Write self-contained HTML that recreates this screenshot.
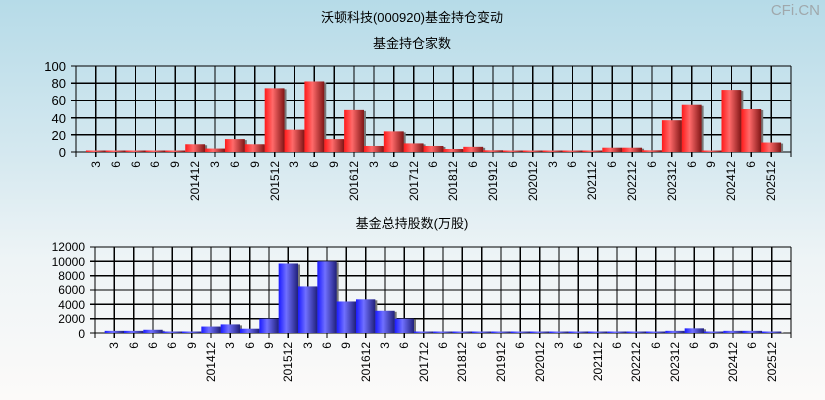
<!DOCTYPE html>
<html><head><meta charset="utf-8"><style>
html,body{margin:0;padding:0;}
body{width:825px;height:400px;overflow:hidden;background:linear-gradient(#b6dbe8 0%,#d6e9f0 40%,#eef4f6 65%,#fcfaf9 100%);font-family:"Liberation Sans","Noto Sans CJK SC",sans-serif;}
svg{position:absolute;left:0;top:0;}
text{font-family:"Liberation Sans","Noto Sans CJK SC",sans-serif;fill:#000;}
.yl{font-size:13px;text-anchor:end;}
.yb{font-size:12px;text-anchor:end;}
.xl text{font-size:12px;text-anchor:end;}
</style></head><body>
<svg width="825" height="400" xmlns="http://www.w3.org/2000/svg">
<defs>
<linearGradient id="rg" x1="0" x2="1" y1="0" y2="0"><stop offset="0" stop-color="#ff1a1a"/><stop offset="0.4" stop-color="#ff6a6a"/><stop offset="1" stop-color="#801515"/></linearGradient>
<linearGradient id="bg" x1="0" x2="1" y1="0" y2="0"><stop offset="0" stop-color="#1a1aff"/><stop offset="0.4" stop-color="#7070ff"/><stop offset="1" stop-color="#20207a"/></linearGradient>
</defs>
<text x="412" y="22" font-size="13" text-anchor="middle">沃顿科技(000920)基金持仓变动</text>
<text x="412" y="48" font-size="13" text-anchor="middle">基金持仓家数</text>
<text x="412" y="228" font-size="13" text-anchor="middle">基金总持股数(万股)</text>
<text x="820" y="15" font-size="15" text-anchor="end" style="fill:#a0a8ac">CFi.CN</text>
<g id="top"></g><g id="bot"></g>
<text class="yl" x="66" y="71">100</text><text class="yl" x="66" y="88">80</text><text class="yl" x="66" y="105">60</text><text class="yl" x="66" y="123">40</text><text class="yl" x="66" y="140">20</text><text class="yl" x="66" y="157">0</text>
<text class="yb" x="85" y="251">12000</text><text class="yb" x="85" y="266">10000</text><text class="yb" x="85" y="280">8000</text><text class="yb" x="85" y="294">6000</text><text class="yb" x="85" y="309">4000</text><text class="yb" x="85" y="323">2000</text><text class="yb" x="85" y="338">0</text>
<g class="xl">
<text transform="translate(100,161) rotate(-90)">3</text><text transform="translate(120,161) rotate(-90)">6</text><text transform="translate(140,161) rotate(-90)">6</text><text transform="translate(159,161) rotate(-90)">6</text><text transform="translate(179,161) rotate(-90)">9</text><text transform="translate(199,161) rotate(-90)">201412</text><text transform="translate(219,161) rotate(-90)">3</text><text transform="translate(239,161) rotate(-90)">6</text><text transform="translate(259,161) rotate(-90)">9</text><text transform="translate(279,161) rotate(-90)">201512</text><text transform="translate(298,161) rotate(-90)">3</text><text transform="translate(318,161) rotate(-90)">6</text><text transform="translate(338,161) rotate(-90)">9</text><text transform="translate(358,161) rotate(-90)">201612</text><text transform="translate(378,161) rotate(-90)">3</text><text transform="translate(398,161) rotate(-90)">6</text><text transform="translate(418,161) rotate(-90)">201712</text><text transform="translate(437,161) rotate(-90)">6</text><text transform="translate(457,161) rotate(-90)">201812</text><text transform="translate(477,161) rotate(-90)">6</text><text transform="translate(497,161) rotate(-90)">201912</text><text transform="translate(517,161) rotate(-90)">6</text><text transform="translate(537,161) rotate(-90)">202012</text><text transform="translate(557,161) rotate(-90)">3</text><text transform="translate(576,161) rotate(-90)">6</text><text transform="translate(596,161) rotate(-90)">202112</text><text transform="translate(616,161) rotate(-90)">6</text><text transform="translate(636,161) rotate(-90)">202212</text><text transform="translate(656,161) rotate(-90)">6</text><text transform="translate(676,161) rotate(-90)">202312</text><text transform="translate(696,161) rotate(-90)">6</text><text transform="translate(715,161) rotate(-90)">9</text><text transform="translate(735,161) rotate(-90)">202412</text><text transform="translate(755,161) rotate(-90)">6</text><text transform="translate(775,161) rotate(-90)">202512</text>
</g>
<g class="xl">
<text transform="translate(118,342) rotate(-90)">3</text><text transform="translate(138,342) rotate(-90)">6</text><text transform="translate(157,342) rotate(-90)">6</text><text transform="translate(176,342) rotate(-90)">6</text><text transform="translate(196,342) rotate(-90)">9</text><text transform="translate(215,342) rotate(-90)">201412</text><text transform="translate(234,342) rotate(-90)">3</text><text transform="translate(254,342) rotate(-90)">6</text><text transform="translate(273,342) rotate(-90)">9</text><text transform="translate(292,342) rotate(-90)">201512</text><text transform="translate(312,342) rotate(-90)">3</text><text transform="translate(331,342) rotate(-90)">6</text><text transform="translate(350,342) rotate(-90)">9</text><text transform="translate(370,342) rotate(-90)">201612</text><text transform="translate(389,342) rotate(-90)">3</text><text transform="translate(408,342) rotate(-90)">6</text><text transform="translate(428,342) rotate(-90)">201712</text><text transform="translate(447,342) rotate(-90)">6</text><text transform="translate(466,342) rotate(-90)">201812</text><text transform="translate(486,342) rotate(-90)">6</text><text transform="translate(505,342) rotate(-90)">201912</text><text transform="translate(524,342) rotate(-90)">6</text><text transform="translate(544,342) rotate(-90)">202012</text><text transform="translate(563,342) rotate(-90)">3</text><text transform="translate(582,342) rotate(-90)">6</text><text transform="translate(602,342) rotate(-90)">202112</text><text transform="translate(621,342) rotate(-90)">6</text><text transform="translate(640,342) rotate(-90)">202212</text><text transform="translate(660,342) rotate(-90)">6</text><text transform="translate(679,342) rotate(-90)">202312</text><text transform="translate(698,342) rotate(-90)">6</text><text transform="translate(718,342) rotate(-90)">9</text><text transform="translate(737,342) rotate(-90)">202412</text><text transform="translate(756,342) rotate(-90)">6</text><text transform="translate(776,342) rotate(-90)">202512</text>
</g>
</svg>
<script>
var NS="http://www.w3.org/2000/svg";
function el(p,n,a){var e=document.createElementNS(NS,n);for(var k in a)e.setAttribute(k,a[k]);p.appendChild(e);return e;}
function chart(id,x0,x1,y0,y1,max,step,vals,grad){
 var g=document.getElementById(id),dx=(x1-x0)/36,h=y1-y0;
 var L={stroke:"#000","stroke-width":"1.3","shape-rendering":"crispEdges"};
 for(var v=0;v<=max;v+=step){var y=y1-v/max*h;el(g,"line",Object.assign({x1:x0-5,x2:x1,y1:y,y2:y},L));}
 for(var k=0;k<=36;k++){var x=x0+dx*k;el(g,"line",Object.assign({x1:x,x2:x,y1:y0,y2:y1+5},L));}
 for(var i=0;i<vals.length;i++){
  var cx=x0+dx*(i+1),bh=vals[i]/max*h;if(bh<1.5)bh=1.5;
  el(g,"rect",{x:cx-dx/2+2,y:y1-bh+1,width:dx,height:bh-1,fill:"#777"});
  el(g,"rect",{x:cx-dx/2,y:y1-bh,width:dx,height:bh,fill:"url(#"+grad+")"});
 }
}
chart("top",76,791,66,152,100,20,[1,1,1,1,1,9,4,15,9,74,26,82,15,49,7,24,10,7,3.5,6,2,1,1,1,1,1,5,5,2,37,55,1,72,50,11],"rg");
chart("bot",95,791,247,333,12000,2000,[300,300,450,150,150,900,1200,600,2000,9700,6500,10000,4400,4700,3100,2000,100,100,100,100,100,100,100,100,100,100,100,100,100,300,650,100,300,300,100],"bg");
</script>
</body></html>
